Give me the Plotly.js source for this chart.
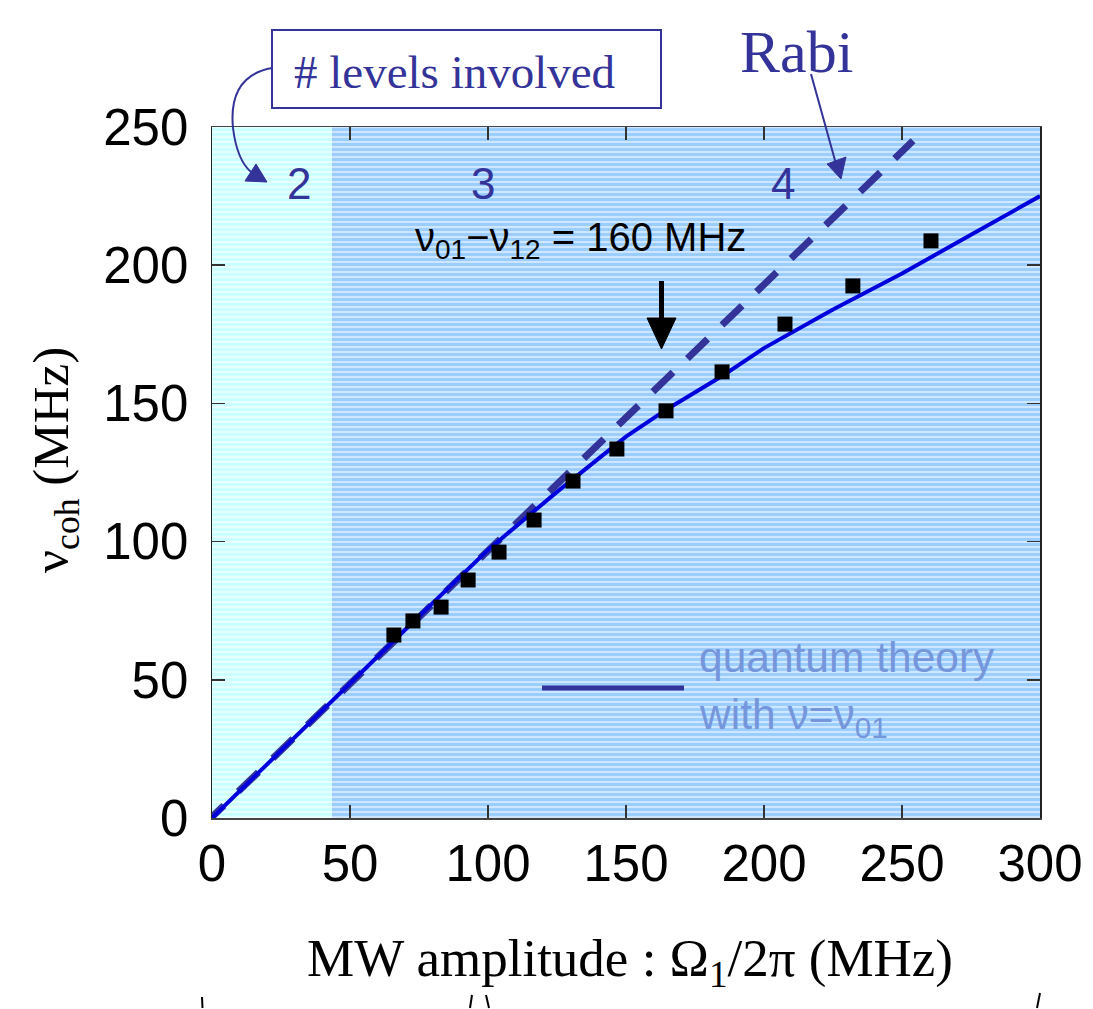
<!DOCTYPE html>
<html>
<head>
<meta charset="utf-8">
<script src="https://cdn.plot.ly/plotly-3.0.1.min.js"></script>
<style>html,body{margin:0;padding:0;background:#fff;}#chart{width:1093px;height:1009px;}</style>
</head>
<body>
<div id="chart"></div>
<script>
// ---- data ----
const expX = [65.9, 72.8, 83.0, 92.8, 104.0, 116.7, 130.8, 146.7, 164.5, 184.8, 207.6, 232.2, 260.5];
const expY = [66.2, 71.3, 76.3, 86.1, 96.2, 107.8, 121.9, 133.5, 147.3, 161.4, 178.7, 192.5, 208.8];
const theoryX = [0, 25, 50, 75, 100, 125, 150, 165, 185, 200, 225, 250, 275, 300];
const theoryY = [0, 24.5, 49, 73, 97, 118, 138, 148, 160, 170, 184, 197, 211, 225];
const rabiX = [-3, 254];
const rabiY = [-2.5, 245];
const regionEdges = [0, 43.5, 300];
const regionColors = ['#ccffff', '#9ccdff'];
const regionLabels = ['2', '3', '4'];
const xTicks = [0, 50, 100, 150, 200, 250, 300];
const yTicks = [0, 50, 100, 150, 200, 250];

// ---- layout helpers (pixel -> paper) ----
const L = 212, R = 1040, T = 127, B = 818;
const px = x => (x - L) / (R - L);
const py = y => (B - y) / (B - T);
const P = (x, y) => px(x) + ',' + py(y);

const regionCenters = regionEdges.slice(0, -1).map((e, i) => (e + regionEdges[i + 1]) / 2);
const regionWidths = regionEdges.slice(0, -1).map((e, i) => regionEdges[i + 1] - e);

const traces = [
  {
    type: 'bar', x: regionCenters, y: regionCenters.map(() => 250), width: regionWidths, base: 0,
    marker: { color: regionColors, line: { width: 0 },
      pattern: { shape: '-', fgcolor: regionColors, fgopacity: 1, bgcolor: '#ffffff', size: 5, solidity: 0.8, fillmode: 'replace' } },
    hoverinfo: 'skip', showlegend: false
  },
  {
    type: 'scatter', mode: 'lines', x: rabiX, y: rabiY,
    line: { color: '#333399', width: 7, dash: '28px,20px' }, hoverinfo: 'skip', showlegend: false
  },
  {
    type: 'scatter', mode: 'lines', x: theoryX, y: theoryY,
    line: { color: '#0000dd', width: 4 }, hoverinfo: 'skip', showlegend: false
  },
  {
    type: 'scatter', mode: 'markers', x: expX, y: expY,
    marker: { symbol: 'square', size: 15, color: '#000000' }, hoverinfo: 'skip', showlegend: false
  }
];

const navy = '#333399';
const sans = 'Liberation Sans, Arial, sans-serif';
const serif = 'Liberation Serif, Times New Roman, serif';

const ann = (x, y, text, size, color, family, extra) => Object.assign({
  xref: 'paper', yref: 'paper', x: px(x), y: py(y), text: text, showarrow: false,
  xanchor: 'center', yanchor: 'middle', font: { size: size, color: color, family: family }
}, extra || {});

const annotations = [
  ann(299, 184, regionLabels[0], 44, navy, sans),
  ann(483, 184, regionLabels[1], 44, navy, sans),
  ann(783, 184, regionLabels[2], 44, navy, sans),
  ann(454, 72, '# levels involved', 47, navy, serif),
  ann(796, 52, 'Rabi', 60, navy, serif),
  ann(580, 240, 'ν<sub>01</sub>−ν<sub>12</sub> = 160 MHz', 40, '#000000', sans),
  ann(697, 657, 'quantum theory', 42.5, 'rgb(118,150,219)', sans, { xanchor: 'left' }),
  ann(697, 717, 'with ν=ν<sub>01</sub>', 42.5, 'rgb(118,150,219)', sans, { xanchor: 'left' }),
  ann(630, 962, 'MW amplitude : Ω<sub>1</sub>/2π (MHz)', 53, '#000000', serif),
  ann(55, 460, 'ν<sub>coh</sub> (MHz)', 51, '#000000', serif, { textangle: -90 })
];

const shapes = [
  // levels box
  { type: 'rect', xref: 'paper', yref: 'paper', x0: px(272), x1: px(661), y0: py(108), y1: py(30),
    line: { color: navy, width: 2 }, fillcolor: 'rgba(0,0,0,0)' },
  // curved arrow
  { type: 'path', xref: 'paper', yref: 'paper', path: 'M' + P(272, 68) + ' Q' + P(228, 76) + ' ' + P(233, 128) + ' Q' + P(237, 160) + ' ' + P(251, 172),
    line: { color: navy, width: 2 } },
  { type: 'path', xref: 'paper', yref: 'paper', path: 'M' + P(245, 181) + ' L' + P(256, 164) + ' L' + P(267, 182) + ' Z',
    line: { color: navy, width: 1 }, fillcolor: navy },
  // Rabi arrow
  { type: 'line', xref: 'paper', yref: 'paper', x0: px(811), y0: py(74), x1: px(836), y1: py(164),
    line: { color: navy, width: 2 } },
  { type: 'path', xref: 'paper', yref: 'paper', path: 'M' + P(827, 164) + ' L' + P(846, 157) + ' L' + P(841, 179) + ' Z',
    line: { color: navy, width: 1 }, fillcolor: navy },
  // black arrow
  { type: 'rect', xref: 'paper', yref: 'paper', x0: px(659), x1: px(664), y0: py(320), y1: py(281),
    line: { width: 0 }, fillcolor: '#000000' },
  { type: 'path', xref: 'paper', yref: 'paper', path: 'M' + P(647, 318) + ' L' + P(676, 318) + ' L' + P(661.5, 349) + ' Z',
    line: { color: '#000', width: 1 }, fillcolor: '#000000' },
  // legend line
  { type: 'line', xref: 'paper', yref: 'paper', x0: px(542), x1: px(684), y0: py(688), y1: py(688),
    line: { color: navy, width: 5 } },
  // stray marks at bottom
  { type: 'line', xref: 'paper', yref: 'paper', x0: px(202), y0: py(997), x1: px(202.5), y1: py(1008), line: { color: '#000', width: 2 } },
  { type: 'line', xref: 'paper', yref: 'paper', x0: px(472), y0: py(995), x1: px(470), y1: py(1008), line: { color: '#000', width: 2 } },
  { type: 'line', xref: 'paper', yref: 'paper', x0: px(486), y0: py(995), x1: px(489), y1: py(1008), line: { color: '#000', width: 2 } },
  { type: 'line', xref: 'paper', yref: 'paper', x0: px(1040), y0: py(993), x1: px(1037), y1: py(1008), line: { color: '#000', width: 2 } }
];

const layout = {
  width: 1093, height: 1009,
  margin: { l: L, r: 1093 - R, t: T, b: 1009 - B },
  paper_bgcolor: '#ffffff', plot_bgcolor: '#ffffff',
  showlegend: false, bargap: 0,
  xaxis: {
    range: [0, 300], tickvals: xTicks, ticktext: xTicks.map(String),
    ticks: 'inside', ticklen: 13, tickwidth: 1.5, tickcolor: '#333',
    showline: true, linecolor: '#444', linewidth: 1.5, mirror: 'ticks',
    showgrid: false, zeroline: false, ticklabelstandoff: 0,
    tickfont: { family: sans, size: 51, color: '#000' }
  },
  yaxis: {
    range: [0, 250], tickvals: yTicks, ticktext: yTicks.map(String),
    ticks: 'inside', ticklen: 13, tickwidth: 1.5, tickcolor: '#333',
    showline: true, linecolor: '#222', linewidth: 1.5, mirror: 'ticks',
    showgrid: false, zeroline: false, ticklabelstandoff: 12,
    tickfont: { family: sans, size: 51, color: '#000' }
  },
  annotations: annotations,
  shapes: shapes
};

Plotly.newPlot('chart', traces, layout, { staticPlot: true });
</script>
</body>
</html>
